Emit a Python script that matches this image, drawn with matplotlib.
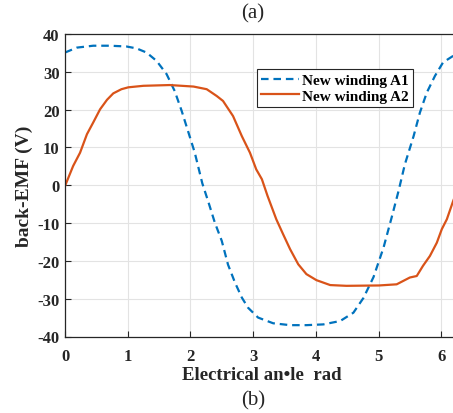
import matplotlib
matplotlib.use("Agg")
import matplotlib.pyplot as plt
import numpy as np

a1_x = [0, 0.19, 0.45, 0.72, 0.98, 1.14, 1.30, 1.46, 1.62, 1.75, 1.86, 1.97, 2.07, 2.19,
        2.29, 2.39, 2.50, 2.60, 2.71, 2.82, 2.92, 3.08, 3.32, 3.59, 3.85, 4.12, 4.39,
        4.60, 4.76, 4.92, 5.08, 5.21, 5.32, 5.42, 5.56, 5.66, 5.77, 5.90, 6.03, 6.19, 6.283]
a1_y = [35.1, 36.4, 36.9, 36.9, 36.7, 36.2, 35.1, 32.9, 29.4, 24.9, 19.7, 13.9, 8.6, 0.5,
        -4.6, -9.9, -14.7, -21.0, -25.7, -29.7, -32.4, -35.0, -36.5, -37.0, -37.0, -36.8, -35.9,
        -33.7, -29.8, -24.3, -16.5, -8.5, -1.5, 5.5, 13.0, 19.2, 24.5, 28.9, 32.5, 34.2, 35.1]

a2_x = [0, 0.13, 0.24, 0.35, 0.45, 0.56, 0.67, 0.77, 0.90, 1.01, 1.25, 1.67, 2.05, 2.26,
        2.42, 2.52, 2.68, 2.82, 2.95, 3.05, 3.14, 3.23, 3.37, 3.48, 3.59, 3.72, 3.85, 4.01,
        4.23, 4.49, 5.01, 5.29, 5.50, 5.61, 5.71, 5.82, 5.93, 6.01, 6.09, 6.19, 6.283]
a2_y = [-0.2, 5.1, 8.6, 13.5, 16.6, 20.1, 22.6, 24.3, 25.4, 25.9, 26.3, 26.5, 26.1, 25.4,
        23.6, 22.3, 18.3, 13.0, 8.6, 4.2, 1.6, -2.8, -9.0, -13.0, -16.9, -20.9, -23.5, -25.1,
        -26.4, -26.6, -26.5, -26.2, -24.4, -24.0, -21.3, -18.7, -15.2, -11.6, -9.0, -4.2, -0.2]

labels = ["New winding A1", "New winding A2"]
xticks = [0, 1, 2, 3, 4, 5, 6]
yticks = [-40, -30, -20, -10, 0, 10, 20, 30, 40]

plt.rcParams['font.family'] = ['Liberation Serif', 'DejaVu Serif']
plt.rcParams['axes.unicode_minus'] = False

W, H = 453, 414
fig = plt.figure(figsize=(W / 100, H / 100), dpi=100)
left = 65 / W
bottom = 1 - 337.5 / H
top = 1 - 35 / H
right = (65 + 2 * np.pi * 62.7) / W
ax = fig.add_axes([left, bottom, right - left, top - bottom])

ax.plot(a1_x, a1_y, color='#0072BD', lw=1.6, linestyle=(0, (3.4, 2.2)), label=labels[0])
ax.plot(a2_x, a2_y, color='#D95319', lw=1.6, label=labels[1])

ax.set_xlim(0, 2 * np.pi)
ax.set_ylim(-40, 40)
ax.set_xticks(xticks)
ax.set_yticks(yticks)
ax.set_xticklabels([str(t) for t in xticks], fontweight='bold', fontsize=12)
ax.set_yticklabels([str(t) for t in yticks], fontweight='bold', fontsize=12)
ax.tick_params(direction='in', length=4, width=0.8, colors='#262626', pad=4)
ax.tick_params(axis='x', pad=8)
ax.tick_params(axis='both', labelcolor='#262626')
ax.grid(True, color='#e3e3e3', lw=0.8)
ax.set_axisbelow(True)
for s in ax.spines.values():
    s.set_color('#262626')
    s.set_linewidth(0.9)

ax.set_xlabel("Electrical an\u2022le  rad", fontweight='bold', fontsize=13.5, color='#262626', labelpad=2)
ax.set_ylabel("back-EMF (V)", fontweight='bold', fontsize=14, color='#262626', labelpad=3)

leg = ax.legend(loc='upper right', bbox_to_anchor=((413 - 65) / (right * W - 65), 1 - (70 - 35) / (337.5 - 35)),
                prop={'weight': 'bold', 'size': 11}, frameon=True, fancybox=False,
                edgecolor='#262626', framealpha=1, handlelength=2.5, handletextpad=0.15,
                borderpad=0.3, labelspacing=0.12, borderaxespad=0)
leg.get_frame().set_linewidth(0.8)

fig.text(253 / W, 1 - 14 / H, "(a)", ha='center', va='center', fontsize=15, color='#262626')
fig.text(253 / W, 1 - 401 / H, "(b)", ha='center', va='center', fontsize=15, color='#262626')

fig.savefig("out.png", dpi=100)
